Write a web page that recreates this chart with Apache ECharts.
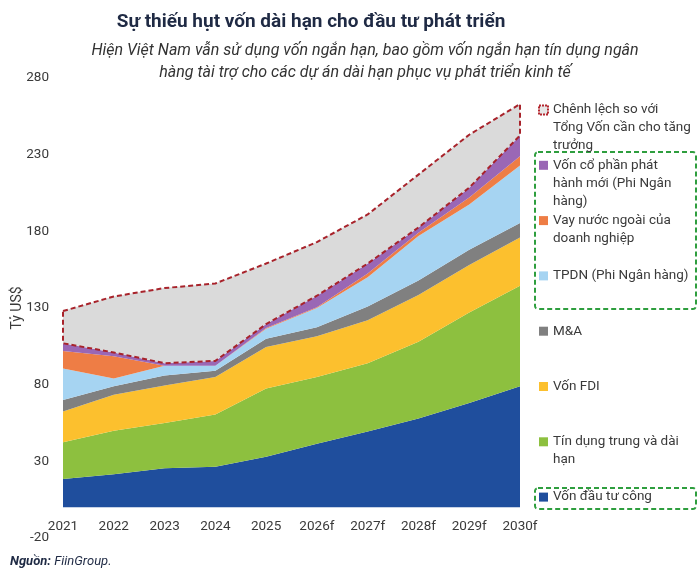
<!DOCTYPE html>
<html lang="vi">
<head>
<meta charset="UTF-8" />
<title>Sự thiếu hụt vốn dài hạn</title>
<script src="https://cdn.jsdelivr.net/npm/echarts@6/dist/echarts.min.js"></script>
<style>
  html, body { margin: 0; padding: 0; background: #fff; }
  #chart { width: 700px; height: 572px; }
</style>
</head>
<body>
<div id="chart"></div>
<script>
// years on the x axis
const years = ['2021', '2022', '2023', '2024', '2025', '2026f', '2027f', '2028f', '2029f', '2030f'];

// series values (Tỷ US$), bottom of the stack first
const congValues   = [18.5, 21.5, 25.5, 26.5, 33, 41.5, 49.5, 58, 68, 79];
const tinDungVals  = [24, 28.5, 29.5, 34, 44.5, 43.5, 44.5, 50, 59, 65.5];
const fdiValues    = [20, 23.5, 24.5, 24.5, 27, 26.5, 28, 30.5, 31, 31.5];
const maValues     = [7.5, 5.5, 6.5, 4, 5.5, 6, 9, 9.5, 10, 9.5];
const tpdnValues   = [20.5, 5, 6.3, 3.3, 6.5, 12.5, 19, 29, 29.5, 37.5];
const vayNNValues  = [11.5, 14.5, 0, 0, 0.5, 0.5, 2.5, 2, 4.5, 6];
const coPhanValues = [5, 2.5, 1.7, 3.2, 2.5, 7.5, 6.5, 3.5, 6.5, 13.5];
const gapValues    = [21, 36.5, 49, 50.5, 39.5, 35, 32, 34.5, 34.5, 20.5];

const seriesNames = [
  'Vốn đầu tư công',
  'Tín dụng trung và dài hạn',
  'Vốn FDI',
  'M&A',
  'TPDN (Phi Ngân hàng)',
  'Vay nước ngoài của doanh nghiệp',
  'Vốn cổ phần phát hành mới (Phi Ngân hàng)',
  'Chênh lệch so với Tổng Vốn cần cho tăng trưởng'
];
const seriesValues = [congValues, tinDungVals, fdiValues, maValues, tpdnValues, vayNNValues, coPhanValues, gapValues];
const colors = ['#1f4e9d', '#8dc03f', '#fcc02e', '#808080', '#a6d4f2', '#ee7d45', '#9a67b5', '#dadada'];

// wrapped legend labels, same order as seriesNames
const legendLabels = [
  'Vốn đầu tư công',
  'Tín dụng trung và dài\nhạn',
  'Vốn FDI',
  'M&A',
  'TPDN (Phi Ngân hàng)',
  'Vay nước ngoài của\ndoanh nghiệp',
  'Vốn cổ phần phát\nhành mới (Phi Ngân\nhàng)',
  'Chênh lệch so với\nTổng Vốn cần cho tăng\ntrưởng'
];

const yTicks = { min: -20, max: 280, interval: 50 };

// cumulative tops for the red dashed outline of the gap area
function cumulative(upto) {
  return years.map((y, i) => {
    let s = 0;
    for (let k = 0; k <= upto; k++) s += seriesValues[k][i];
    return s;
  });
}
const totalTop = cumulative(7);
const fundedTop = cumulative(6);
const outline = [];
years.forEach((y, i) => outline.push([y, totalTop[i]]));
for (let i = years.length - 1; i >= 0; i--) outline.push([years[i], fundedTop[i]]);
outline.push([years[0], totalTop[0]]);

const font = 'Roboto';
const gridTop = 78, gridBottom = 34;
// x labels sit just under the zero line, not under -20
const zeroOffset = (0 - yTicks.min) / (yTicks.max - yTicks.min) * (572 - gridTop - gridBottom);

const chart = echarts.init(document.getElementById('chart'));

const series = seriesNames.map((name, i) => ({
  name: name,
  type: 'line',
  stack: 'total',
  data: seriesValues[i],
  symbol: 'none',
  lineStyle: { width: 0 },
  itemStyle: { color: colors[i] },
  areaStyle: { color: colors[i], opacity: 1 },
  emphasis: { disabled: true }
}));
series.push({
  name: 'outline',
  type: 'line',
  data: outline,
  symbol: 'none',
  silent: true,
  z: 5,
  lineStyle: { color: '#a8232b', width: 2, type: [5, 3] }
});

// legend text: first line lines up with the icon, every item is 5 lines tall
function legendText(name) {
  const lines = legendLabels[seriesNames.indexOf(name)].split('\n');
  return '\n\n' + lines.join('\n') + '\n'.repeat(3 - lines.length);
}

const legendOrder = seriesNames.slice().reverse();

const option = {
  animation: false,
  textStyle: { fontFamily: font },
  grid: { left: 63, right: 180, top: gridTop, bottom: gridBottom },
  xAxis: {
    type: 'category',
    data: years,
    boundaryGap: false,
    offset: -zeroOffset,
    axisLine: { show: false, onZero: false },
    axisTick: { show: false },
    axisLabel: { color: '#3a3a3a', fontSize: 13.5, margin: 12, interval: 0 }
  },
  yAxis: {
    type: 'value',
    min: yTicks.min,
    max: yTicks.max,
    interval: yTicks.interval,
    splitLine: { show: false },
    axisLine: { show: false },
    axisTick: { show: false },
    axisLabel: { color: '#3a3a3a', fontSize: 13.5, margin: 14 },
    name: 'Tỷ US$',
    nameLocation: 'middle',
    nameRotate: 90,
    nameGap: 39,
    nameMoveOverlap: false,
    nameTextStyle: { color: '#3a3a3a', fontSize: 14 }
  },
  legend: {
    orient: 'vertical',
    left: 538,
    top: 65,
    padding: 0,
    itemGap: -34.7,
    icon: 'rect',
    itemWidth: 9,
    itemHeight: 9,
    selectedMode: false,
    itemStyle: { borderWidth: 0 },
    textStyle: { color: '#3a3a3a', fontSize: 13.5, lineHeight: 18, fontFamily: font },
    formatter: legendText,
    data: legendOrder.map((n, i) => i === 0
      ? { name: n, itemStyle: { color: '#e6e6e6', borderColor: '#b4262e', borderWidth: 2, borderType: [2, 1] } }
      : { name: n })
  },
  graphic: [
    {
      type: 'text', x: 311, y: 22,
      style: {
        text: 'Sự thiếu hụt vốn dài hạn cho đầu tư phát triển',
        align: 'center', verticalAlign: 'middle',
        font: 'bold 19px Roboto', fill: '#1f2a44'
      }
    },
    {
      type: 'text', x: 365, y: 62,
      style: {
        text: 'Hiện Việt Nam vẫn sử dụng vốn ngắn hạn, bao gồm vốn ngắn hạn tín dụng ngân\nhàng tài trợ cho các dự án dài hạn phục vụ phát triển kinh tế',
        align: 'center', verticalAlign: 'middle', lineHeight: 22,
        font: 'italic 16px Roboto', fill: '#333'
      }
    },
    {
      type: 'text', x: 10, y: 562,
      style: {
        text: '{b|Nguồn:} FiinGroup.',
        verticalAlign: 'middle',
        font: 'italic 13px Roboto', fill: '#1f2a44',
        rich: { b: { fontWeight: 'bold', fontStyle: 'italic', fontSize: 13, fontFamily: font, fill: '#1f2a44' } }
      }
    },
    {
      type: 'rect', shape: { x: 535, y: 152, width: 161, height: 157, r: 3 },
      style: { fill: 'none', stroke: '#2e9e3e', lineWidth: 2, lineDash: [5, 3] }
    },
    {
      type: 'rect', shape: { x: 535, y: 488, width: 161, height: 21, r: 3 },
      style: { fill: 'none', stroke: '#2e9e3e', lineWidth: 2, lineDash: [5, 3] }
    }
  ],
  series: series
};

chart.setOption(option);
</script>
</body>
</html>
